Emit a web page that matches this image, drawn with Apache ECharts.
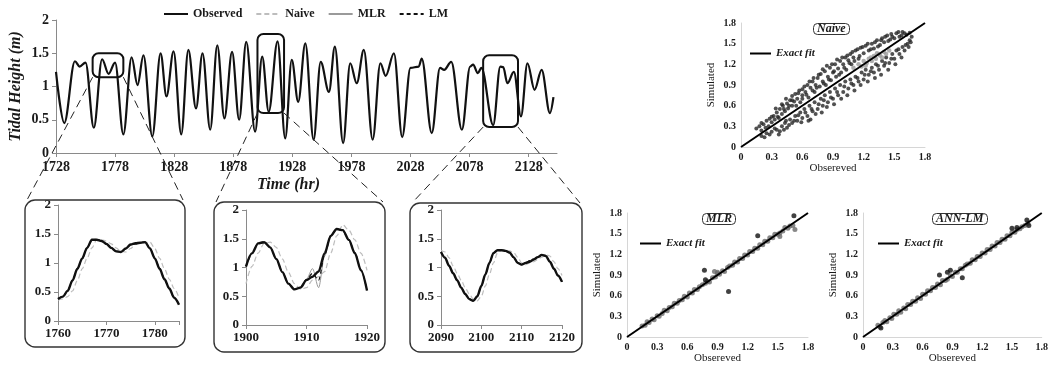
<!DOCTYPE html>
<html>
<head>
<meta charset="utf-8">
<script src="https://cdn.jsdelivr.net/npm/echarts@6/dist/echarts.min.js"></script>
<style>
  html, body { margin: 0; padding: 0; background: #fff; }
  #chart { width: 1051px; height: 368px; }
</style>
</head>
<body>
<div id="chart"></div>
<script>
// ---------- data ----------
// main time series (turning points of the observed tide)
var mainHours = [1728, 1735, 1744, 1748, 1753, 1760, 1767, 1772.5, 1778, 1785, 1792, 1797, 1802, 1809.5, 1816.5, 1821.5, 1827.5, 1834, 1840, 1846.5, 1852, 1858.5, 1864.5, 1870.5, 1877, 1883, 1889, 1896.5, 1902.5, 1908, 1915.5, 1922, 1927.5, 1933, 1939, 1946, 1952, 1959, 1964, 1971, 1977, 1982.5, 1988.5, 1996, 2002.5, 2007, 2014, 2021, 2028, 2035, 2037.5, 2046, 2053, 2056.5, 2062.5, 2071.5, 2078.5, 2081, 2085, 2088, 2098, 2104, 2106.5, 2110, 2115.5, 2121.5, 2127, 2133, 2139, 2146, 2149]
var mainObserved = [1.22, 0.45, 1.38, 1.3, 1.36, 0.38, 1.41, 1.19, 1.36, 0.28, 1.44, 1.02, 1.47, 0.25, 1.5, 0.85, 1.53, 0.28, 1.55, 0.67, 1.5, 0.35, 1.62, 0.52, 1.52, 0.5, 1.67, 0.32, 1.45, 0.62, 1.68, 0.22, 1.4, 0.77, 1.65, 0.2, 1.37, 0.92, 1.6, 0.15, 1.35, 1.05, 1.55, 0.2, 1.35, 1.16, 1.5, 0.24, 1.28, 1.3, 1.42, 0.3, 1.28, 1.25, 1.37, 0.35, 1.3, 1.33, 1.2, 1.28, 0.42, 1.3, 1.29, 1.05, 1.22, 0.55, 1.35, 0.95, 1.25, 0.6, 0.84]
var mainTicks = [1728, 1778, 1828, 1878, 1928, 1978, 2028, 2078, 2128]

// zoomed windows [hourFrom, hourTo, low, high]
var zoomBoxes = [[1759, 1785, 1.14, 1.5], [1898.5, 1921, 0.6, 1.79], [2089.5, 2119, 0.39, 1.47]]

// inset 1
var inset1Hours = [1760, 1761, 1762, 1763, 1764, 1765, 1766, 1767, 1768, 1769, 1770, 1771, 1772, 1773, 1774, 1775, 1776, 1777, 1778, 1779, 1780, 1781, 1782, 1783, 1784, 1785]
var inset1Observed = [0.38, 0.42, 0.52, 0.7, 0.9, 1.08, 1.26, 1.4, 1.4, 1.38, 1.33, 1.26, 1.2, 1.19, 1.25, 1.32, 1.34, 1.35, 1.36, 1.25, 1.08, 0.9, 0.72, 0.56, 0.4, 0.28]
var inset1Naive = [0.36, 0.38, 0.42, 0.52, 0.7, 0.9, 1.08, 1.26, 1.4, 1.4, 1.38, 1.33, 1.26, 1.2, 1.19, 1.25, 1.32, 1.34, 1.35, 1.36, 1.25, 1.08, 0.9, 0.72, 0.56, 0.4]
var inset1MLR = [0.39, 0.43, 0.53, 0.7, 0.89, 1.08, 1.25, 1.39, 1.4, 1.37, 1.33, 1.26, 1.21, 1.19, 1.24, 1.31, 1.34, 1.35, 1.35, 1.26, 1.09, 0.9, 0.73, 0.56, 0.41, 0.29]
var inset1LM = [0.38, 0.42, 0.52, 0.71, 0.9, 1.07, 1.26, 1.4, 1.41, 1.38, 1.32, 1.26, 1.2, 1.19, 1.25, 1.32, 1.33, 1.35, 1.36, 1.25, 1.08, 0.91, 0.72, 0.55, 0.4, 0.28]

// inset 2
var inset2Hours = [1900, 1901, 1902, 1903, 1904, 1905, 1906, 1907, 1908, 1909, 1910, 1911, 1912, 1913, 1914, 1915, 1916, 1917, 1918, 1919, 1920]
var inset2Observed = [1.02, 1.25, 1.42, 1.44, 1.35, 1.15, 0.92, 0.72, 0.62, 0.65, 0.78, 0.84, 0.93, 1.25, 1.55, 1.67, 1.65, 1.48, 1.25, 0.95, 0.6]
var inset2Naive = [0.72, 1.02, 1.25, 1.42, 1.44, 1.35, 1.15, 0.92, 0.72, 0.62, 0.65, 0.78, 0.84, 0.93, 1.25, 1.55, 1.74, 1.65, 1.48, 1.25, 0.95]
var inset2MLR = [1.02, 1.25, 1.42, 1.44, 1.35, 1.14, 0.92, 0.72, 0.63, 0.66, 0.8, 0.98, 0.65, 1.2, 1.54, 1.68, 1.64, 1.47, 1.24, 0.95, 0.61]
var inset2LM = [1.01, 1.24, 1.42, 1.45, 1.35, 1.15, 0.93, 0.72, 0.62, 0.65, 0.79, 0.9, 0.78, 1.22, 1.55, 1.67, 1.64, 1.48, 1.26, 0.96, 0.6]

// inset 3
var inset3Hours = [2090, 2091, 2092, 2093, 2094, 2095, 2096, 2097, 2098, 2099, 2100, 2101, 2102, 2103, 2104, 2105, 2106, 2107, 2108, 2109, 2110, 2111, 2112, 2113, 2114, 2115, 2116, 2117, 2118, 2119, 2120]
var inset3Observed = [1.27, 1.17, 1.03, 0.9, 0.78, 0.65, 0.54, 0.45, 0.42, 0.5, 0.68, 0.88, 1.08, 1.25, 1.3, 1.3, 1.29, 1.26, 1.18, 1.08, 1.05, 1.08, 1.1, 1.14, 1.18, 1.22, 1.2, 1.1, 0.98, 0.86, 0.75]
var inset3Naive = [1.3, 1.27, 1.17, 1.03, 0.9, 0.78, 0.65, 0.54, 0.45, 0.42, 0.5, 0.68, 0.88, 1.08, 1.25, 1.3, 1.3, 1.29, 1.26, 1.18, 1.08, 1.05, 1.08, 1.1, 1.14, 1.18, 1.22, 1.2, 1.1, 0.98, 0.86]
var inset3MLR = [1.27, 1.16, 1.03, 0.9, 0.77, 0.65, 0.54, 0.46, 0.43, 0.5, 0.67, 0.88, 1.07, 1.24, 1.3, 1.3, 1.28, 1.25, 1.18, 1.09, 1.05, 1.09, 1.12, 1.15, 1.18, 1.21, 1.19, 1.1, 0.98, 0.86, 0.76]
var inset3LM = [1.27, 1.17, 1.03, 0.9, 0.78, 0.65, 0.54, 0.45, 0.42, 0.5, 0.68, 0.88, 1.08, 1.25, 1.3, 1.3, 1.29, 1.26, 1.18, 1.08, 1.05, 1.08, 1.12, 1.14, 1.18, 1.22, 1.2, 1.1, 0.98, 0.86, 0.75]

// scatter: [observed, simulated]
var naiveUpper = [[0.15,0.27],[0.18,0.3],[0.2,0.24],[0.22,0.33],[0.25,0.38],[0.27,0.3],[0.28,0.41],[0.3,0.36],[0.32,0.45],[0.33,0.4],[0.35,0.5],[0.36,0.44],[0.38,0.55],[0.4,0.48],[0.41,0.6],[0.43,0.52],[0.45,0.63],[0.46,0.56],[0.48,0.68],[0.5,0.6],[0.5,0.74],[0.52,0.66],[0.55,0.7],[0.56,0.78],[0.58,0.65],[0.6,0.84],[0.6,0.75],[0.63,0.8],[0.65,0.9],[0.66,0.72],[0.68,0.86],[0.7,0.95],[0.72,0.8],[0.73,0.9],[0.75,1.0],[0.77,0.88],[0.78,1.06],[0.8,0.95],[0.82,1.1],[0.83,0.9],[0.85,1.02],[0.87,1.15],[0.88,0.97],[0.9,1.08],[0.92,1.2],[0.93,1.02],[0.95,1.14],[0.97,1.25],[0.98,1.08],[1.0,1.2],[1.02,1.3],[1.03,1.12],[1.05,1.26],[1.07,1.35],[1.08,1.2],[1.1,1.3],[1.12,1.4],[1.15,1.28],[1.17,1.44],[1.2,1.36],[1.22,1.47],[1.25,1.4],[1.28,1.5],[1.3,1.43],[1.33,1.55],[1.36,1.48],[1.38,1.58],[1.4,1.52],[1.43,1.62],[1.46,1.56],[1.48,1.6],[1.52,1.65],[1.55,1.6],[1.58,1.67],[1.62,1.63],[1.65,1.66],
  [0.2,0.35],[0.24,0.28],[0.3,0.44],[0.34,0.56],[0.37,0.42],[0.4,0.62],[0.42,0.55],[0.44,0.7],[0.47,0.6],[0.5,0.68],[0.53,0.77],[0.54,0.6],[0.57,0.82],[0.6,0.7],[0.62,0.88],[0.64,0.76],[0.67,0.95],[0.7,0.82],[0.71,1.0],[0.74,0.86],[0.76,1.05],[0.8,1.13],[0.81,0.92],[0.84,1.18],[0.86,0.98],[0.89,1.2],[0.91,1.1],[0.94,1.27],[0.96,1.05],[0.99,1.3],[1.01,1.15],[1.04,1.33],[1.06,1.22],[1.09,1.38],[1.11,1.25],[1.14,1.42],[1.16,1.32],[1.19,1.45],[1.24,1.5],[1.27,1.42],[1.31,1.52],[1.34,1.46],[1.37,1.55],[1.41,1.6],[1.44,1.54],[1.47,1.64],[1.5,1.58],[1.54,1.67],[1.57,1.62],[1.6,1.65]]
var naiveLower = [[0.2,0.16],[0.25,0.2],[0.3,0.22],[0.33,0.27],[0.37,0.18],[0.38,0.23],[0.4,0.3],[0.43,0.35],[0.45,0.28],[0.48,0.4],[0.5,0.35],[0.53,0.45],[0.55,0.38],[0.58,0.5],[0.6,0.42],[0.62,0.55],[0.65,0.45],[0.67,0.6],[0.68,0.4],[0.7,0.52],[0.72,0.65],[0.75,0.55],[0.78,0.7],[0.8,0.6],[0.82,0.75],[0.85,0.65],[0.87,0.8],[0.9,0.7],[0.92,0.85],[0.95,0.75],[0.97,0.9],[1.0,0.8],[1.02,0.95],[1.05,0.85],[1.07,0.98],[1.1,0.9],[1.12,1.02],[1.15,0.95],[1.18,1.08],[1.2,0.98],[1.22,1.12],[1.25,1.05],[1.28,1.15],[1.3,1.08],[1.32,1.2],[1.35,1.12],[1.38,1.25],[1.4,1.18],[1.42,1.3],[1.45,1.22],[1.48,1.35],[1.5,1.28],[1.52,1.4],[1.55,1.35],[1.58,1.45],[1.6,1.4],[1.63,1.5],[1.65,1.55],[1.67,1.6],
  [0.23,0.14],[0.28,0.18],[0.35,0.25],[0.42,0.25],[0.44,0.38],[0.47,0.32],[0.52,0.38],[0.56,0.46],[0.59,0.36],[0.63,0.5],[0.66,0.38],[0.69,0.55],[0.73,0.48],[0.76,0.62],[0.79,0.5],[0.81,0.68],[0.84,0.58],[0.88,0.72],[0.91,0.62],[0.94,0.8],[0.98,0.7],[1.01,0.88],[1.04,0.75],[1.08,0.92],[1.11,0.82],[1.14,1.0],[1.17,0.9],[1.21,1.05],[1.24,0.95],[1.27,1.1],[1.31,1.0],[1.34,1.18],[1.37,1.05],[1.41,1.22],[1.44,1.12],[1.47,1.28],[1.51,1.2],[1.54,1.42],[1.57,1.3],[1.61,1.48],[1.64,1.45],[1.66,1.52]]
var naiveCentre = [[1.1,1.15],[1.15,1.2],[1.18,1.17],[1.2,1.25],[1.23,1.22],[1.25,1.28],[1.28,1.25],[1.3,1.32],[1.32,1.28],[1.35,1.35],[1.38,1.3],[1.4,1.38],[1.42,1.35],[1.45,1.4],[1.27,1.3],[1.22,1.18],[1.33,1.36],[1.36,1.33]]

var mlrPoints = [[0.15,0.16],[0.18,0.17],[0.2,0.22],[0.22,0.21],[0.25,0.26],[0.27,0.25],[0.3,0.31],[0.32,0.3],[0.35,0.34],[0.37,0.39],[0.4,0.38],[0.42,0.43],[0.45,0.44],[0.47,0.49],[0.5,0.49],[0.52,0.53],[0.55,0.54],[0.57,0.59],[0.6,0.58],[0.62,0.64],[0.65,0.64],[0.67,0.69],[0.7,0.69],[0.72,0.73],[0.75,0.76],[0.78,0.78],[0.8,0.81],[0.82,0.8],[0.85,0.86],[0.88,0.87],[0.9,0.92],[0.92,0.91],[0.95,0.96],[0.97,0.95],[1.0,1.01],[1.02,1.03],[1.05,1.04],[1.07,1.09],[1.1,1.09],[1.12,1.14],[1.15,1.14],[1.17,1.19],[1.2,1.19],[1.22,1.24],[1.25,1.24],[1.27,1.29],[1.3,1.29],[1.32,1.34],[1.35,1.34],[1.37,1.39],[1.4,1.39],[1.42,1.44],[1.45,1.44],[1.47,1.49],[1.5,1.49],[1.52,1.51],[1.55,1.54],[1.57,1.59],[1.6,1.58],[1.62,1.61],[1.65,1.62],[0.87,0.95],[0.9,0.94],[1.52,1.46],[1.67,1.56]]
var mlrOutliers = [[0.77,0.97],[0.78,0.83],[1.01,0.66],[1.3,1.47],[1.66,1.76]]

var annPoints = [[0.15,0.17],[0.17,0.15],[0.2,0.21],[0.22,0.24],[0.24,0.22],[0.27,0.28],[0.29,0.27],[0.31,0.33],[0.34,0.33],[0.36,0.38],[0.38,0.36],[0.41,0.42],[0.43,0.41],[0.45,0.47],[0.48,0.47],[0.5,0.52],[0.53,0.52],[0.55,0.57],[0.58,0.56],[0.6,0.62],[0.63,0.62],[0.65,0.67],[0.68,0.67],[0.7,0.72],[0.73,0.72],[0.75,0.77],[0.78,0.76],[0.8,0.82],[0.83,0.82],[0.85,0.84],[0.88,0.89],[0.9,0.88],[0.93,0.94],[0.95,0.94],[0.98,0.99],[1.0,0.99],[1.03,1.04],[1.05,1.06],[1.08,1.07],[1.1,1.12],[1.13,1.12],[1.15,1.17],[1.18,1.17],[1.2,1.22],[1.23,1.22],[1.25,1.27],[1.28,1.27],[1.3,1.32],[1.33,1.32],[1.35,1.37],[1.38,1.37],[1.4,1.42],[1.43,1.42],[1.45,1.47],[1.48,1.47],[1.5,1.52],[1.53,1.52],[1.55,1.56],[1.58,1.57],[1.6,1.6],[1.63,1.62],[1.66,1.65]]
var annOutliers = [[0.77,0.9],[0.85,0.94],[0.88,0.97],[1.0,0.86],[1.5,1.58],[1.55,1.59],[1.65,1.7],[1.67,1.62],[0.18,0.13]]

var exactFit = [[0, 0], [1.8, 1.8]]

// ---------- styling ----------
var serif = "'Liberation Serif', 'DejaVu Serif', serif"
var axisGray = '#8a8a8a'
var textColor = '#1a1a1a'

// inset frames drawn round the zoomed panels [x, y, w, h]
var insetFrames = [[25, 200, 160, 147], [214, 202, 171, 150], [410, 203, 172, 149]]

function pairs(xs, ys) {
  return xs.map(function (x, i) { return [x, ys[i]] })
}

function insetXAxis(grid, min, max) {
  return {
    type: 'value', gridIndex: grid, min: min, max: max, interval: 10,
    axisLine: { show: true, lineStyle: { color: axisGray } },
    axisTick: { length: 4, lineStyle: { color: axisGray } },
    axisLabel: {
      fontFamily: serif, fontSize: 13, fontWeight: 'bold', color: textColor, margin: 6,
      formatter: function (v) { return v % 10 === 0 ? String(v) : '' }
    },
    splitLine: { show: false }
  }
}

function insetYAxis(grid) {
  return {
    type: 'value', gridIndex: grid, min: 0, max: 2, interval: 0.5,
    axisLine: { show: true, lineStyle: { color: axisGray } },
    axisTick: { show: true, length: 4, lineStyle: { color: axisGray } },
    axisLabel: { fontFamily: serif, fontSize: 13, fontWeight: 'bold', color: textColor, margin: 7 },
    splitLine: { show: false }
  }
}

function scatterAxis(grid, name, gap) {
  return {
    type: 'value', gridIndex: grid, min: 0, max: 1.8, interval: 0.3,
    name: name, nameLocation: 'middle', nameGap: gap,
    nameTextStyle: { fontFamily: serif, fontSize: 11, color: textColor },
    axisLine: { show: true, lineStyle: { color: '#d6d6d6' } },
    axisTick: { show: false },
    axisLabel: {
      fontFamily: serif, fontSize: 10, fontWeight: 'bold', color: textColor, margin: 5,
      formatter: function (v) { return v === 0 ? '0' : v.toFixed(1) }
    },
    splitLine: { show: false }
  }
}

// one set of four lines for an inset
function insetSeries(idx, hours, obs, naive, mlr, lm) {
  var common = { type: 'line', xAxisIndex: idx, yAxisIndex: idx, showSymbol: false, symbol: 'none', smooth: 0.3, smoothMonotone: 'x' }
  return [
    Object.assign({ name: 'Naive', data: pairs(hours, naive), lineStyle: { color: '#bdbdbd', width: 1.2, type: [5, 3] }, itemStyle: { color: '#bdbdbd' }, z: 2 }, common),
    Object.assign({ name: 'MLR', data: pairs(hours, mlr), lineStyle: { color: '#9a9a9a', width: 1 }, itemStyle: { color: '#9a9a9a' }, z: 3 }, common),
    Object.assign({ name: 'Observed', data: pairs(hours, obs), lineStyle: { color: '#111', width: 2.4 }, itemStyle: { color: '#111' }, z: 4 }, common),
    Object.assign({ name: 'LM', data: pairs(hours, lm), lineStyle: { color: '#111', width: 1.2, type: [4, 3] }, itemStyle: { color: '#111' }, z: 5 }, common)
  ]
}

function scatterSeries(idx, data, color, size) {
  return { type: 'scatter', xAxisIndex: idx, yAxisIndex: idx, data: data, symbolSize: size, itemStyle: { color: color }, z: 2 }
}

function fitSeries(idx) {
  return {
    name: 'Exact fit', type: 'line', xAxisIndex: idx, yAxisIndex: idx, data: exactFit,
    showSymbol: false, symbol: 'none', lineStyle: { color: '#000', width: 2 }, itemStyle: { color: '#000' }, z: 5
  }
}

function titleBox(text, left, top) {
  return {
    text: text, left: left, top: top, padding: [0, 4],
    borderColor: '#333', borderWidth: 1, borderRadius: 4,
    textStyle: { fontFamily: serif, fontSize: 12, fontStyle: 'italic', fontWeight: 'bold', color: textColor, lineHeight: 12 }
  }
}

// legend marker: keep the line, hide the round symbol
var noMarker = { color: 'transparent', borderColor: 'transparent', borderWidth: 0, opacity: 0 }

function fitLegend(left, top) {
  return {
    data: ['Exact fit'], left: left, top: top, itemWidth: 21, itemHeight: 10, selectedMode: false, padding: 0,
    itemStyle: noMarker,
    textStyle: { fontFamily: serif, fontSize: 11, fontStyle: 'italic', fontWeight: 'bold', color: textColor }
  }
}

var chart = echarts.init(document.getElementById('chart'))

var series = [
  {
    name: 'Observed', type: 'line', xAxisIndex: 0, yAxisIndex: 0,
    data: pairs(mainHours, mainObserved), showSymbol: false, symbol: 'none',
    smooth: 0.35, smoothMonotone: 'x',
    lineStyle: { color: '#111', width: 2.2 }, itemStyle: { color: '#111' }
  }
]
series = series
  .concat(insetSeries(1, inset1Hours, inset1Observed, inset1Naive, inset1MLR, inset1LM))
  .concat(insetSeries(2, inset2Hours, inset2Observed, inset2Naive, inset2MLR, inset2LM))
  .concat(insetSeries(3, inset3Hours, inset3Observed, inset3Naive, inset3MLR, inset3LM))
  .concat([
    scatterSeries(4, naiveUpper, '#262626', 4),
    scatterSeries(4, naiveLower, '#262626', 4),
    scatterSeries(4, naiveCentre, '#9a9a9a', 4.5),
    fitSeries(4),
    scatterSeries(5, mlrPoints, '#6a6a6a', 5),
    scatterSeries(5, mlrOutliers, '#111', 5),
    fitSeries(5),
    scatterSeries(6, annPoints, '#6a6a6a', 5),
    scatterSeries(6, annOutliers, '#111', 5),
    fitSeries(6)
  ])

var option = {
  animation: false,
  backgroundColor: '#fff',
  title: [titleBox('Naive', 813, 23), titleBox('MLR', 702, 213), titleBox('ANN-LM', 932, 213)],
  legend: [
    {
      data: ['Observed', 'Naive', 'MLR', 'LM'], left: 163, top: 8, padding: 0,
      itemWidth: 24, itemHeight: 10, itemGap: 13, selectedMode: false,
      itemStyle: noMarker,
      textStyle: { fontFamily: serif, fontSize: 12, fontWeight: 'bold', color: textColor }
    },
    fitLegend(749, 48), fitLegend(639, 238), fitLegend(877, 238)
  ],
  grid: [
    { left: 56, top: 20, width: 501, height: 133 },
    { left: 58, top: 205, width: 121, height: 116 },
    { left: 246, top: 210, width: 121, height: 115 },
    { left: 441, top: 210, width: 121, height: 115 },
    { left: 741, top: 23, width: 184, height: 124 },
    { left: 627, top: 213, width: 181, height: 124 },
    { left: 863, top: 213, width: 184, height: 124 }
  ],
  xAxis: [
    {
      type: 'value', gridIndex: 0, min: 1728, max: 2152,
      name: 'Time (hr)', nameLocation: 'middle', nameGap: 24,
      nameTextStyle: { fontFamily: serif, fontSize: 16, fontStyle: 'italic', fontWeight: 'bold', color: textColor, padding: [0, 36, 0, 0] },
      axisLine: { show: true, lineStyle: { color: axisGray } },
      axisTick: { show: true, length: 4, customValues: mainTicks, lineStyle: { color: axisGray } },
      axisLabel: {
        customValues: mainTicks, fontFamily: serif, fontSize: 14, fontWeight: 'bold', color: textColor, margin: 7,
        formatter: function (v) { return String(v) }
      },
      splitLine: { show: false }
    },
    insetXAxis(1, 1760, 1785),
    insetXAxis(2, 1900, 1920),
    insetXAxis(3, 2090, 2120),
    scatterAxis(4, 'Obsereved', 15),
    scatterAxis(5, 'Obsereved', 15),
    scatterAxis(6, 'Obsereved', 15)
  ],
  yAxis: [
    {
      type: 'value', gridIndex: 0, min: 0, max: 2, interval: 0.5,
      name: 'Tidal Height (m)', nameLocation: 'middle', nameGap: 32,
      nameTextStyle: { fontFamily: serif, fontSize: 16, fontStyle: 'italic', fontWeight: 'bold', color: textColor },
      axisLine: { show: true, lineStyle: { color: axisGray } },
      axisTick: { show: true, length: 4, lineStyle: { color: axisGray } },
      axisLabel: { fontFamily: serif, fontSize: 14, fontWeight: 'bold', color: textColor, margin: 7 },
      splitLine: { show: false }
    },
    insetYAxis(1),
    insetYAxis(2),
    insetYAxis(3),
    scatterAxis(4, 'Simulated', 24),
    scatterAxis(5, 'Simulated', 24),
    scatterAxis(6, 'Simulated', 24)
  ],
  series: series
}

chart.setOption(option)

// zoom boxes on the main series, their connectors and the inset frames
var graphics = []
zoomBoxes.forEach(function (b, i) {
  var p0 = chart.convertToPixel({ xAxisIndex: 0, yAxisIndex: 0 }, [b[0], b[3]])
  var p1 = chart.convertToPixel({ xAxisIndex: 0, yAxisIndex: 0 }, [b[1], b[2]])
  var f = insetFrames[i]
  graphics.push({
    type: 'rect', z: 100,
    shape: { x: p0[0], y: p0[1], width: p1[0] - p0[0], height: p1[1] - p0[1], r: 6 },
    style: { fill: 'none', stroke: '#111', lineWidth: 2 }
  })
  graphics.push({
    type: 'line', z: 100,
    shape: { x1: p0[0], y1: p1[1], x2: f[0] + 2, y2: f[1] },
    style: { stroke: '#222', lineWidth: 1, lineDash: [8, 5] }
  })
  graphics.push({
    type: 'line', z: 100,
    shape: { x1: p1[0], y1: p1[1], x2: f[0] + f[2] - 2, y2: f[1] },
    style: { stroke: '#222', lineWidth: 1, lineDash: [8, 5] }
  })
  graphics.push({
    type: 'rect', z: 100,
    shape: { x: f[0], y: f[1], width: f[2], height: f[3], r: 10 },
    style: { fill: 'none', stroke: '#333', lineWidth: 1.4 }
  })
})
chart.setOption({ graphic: graphics })
</script>
</body>
</html>
